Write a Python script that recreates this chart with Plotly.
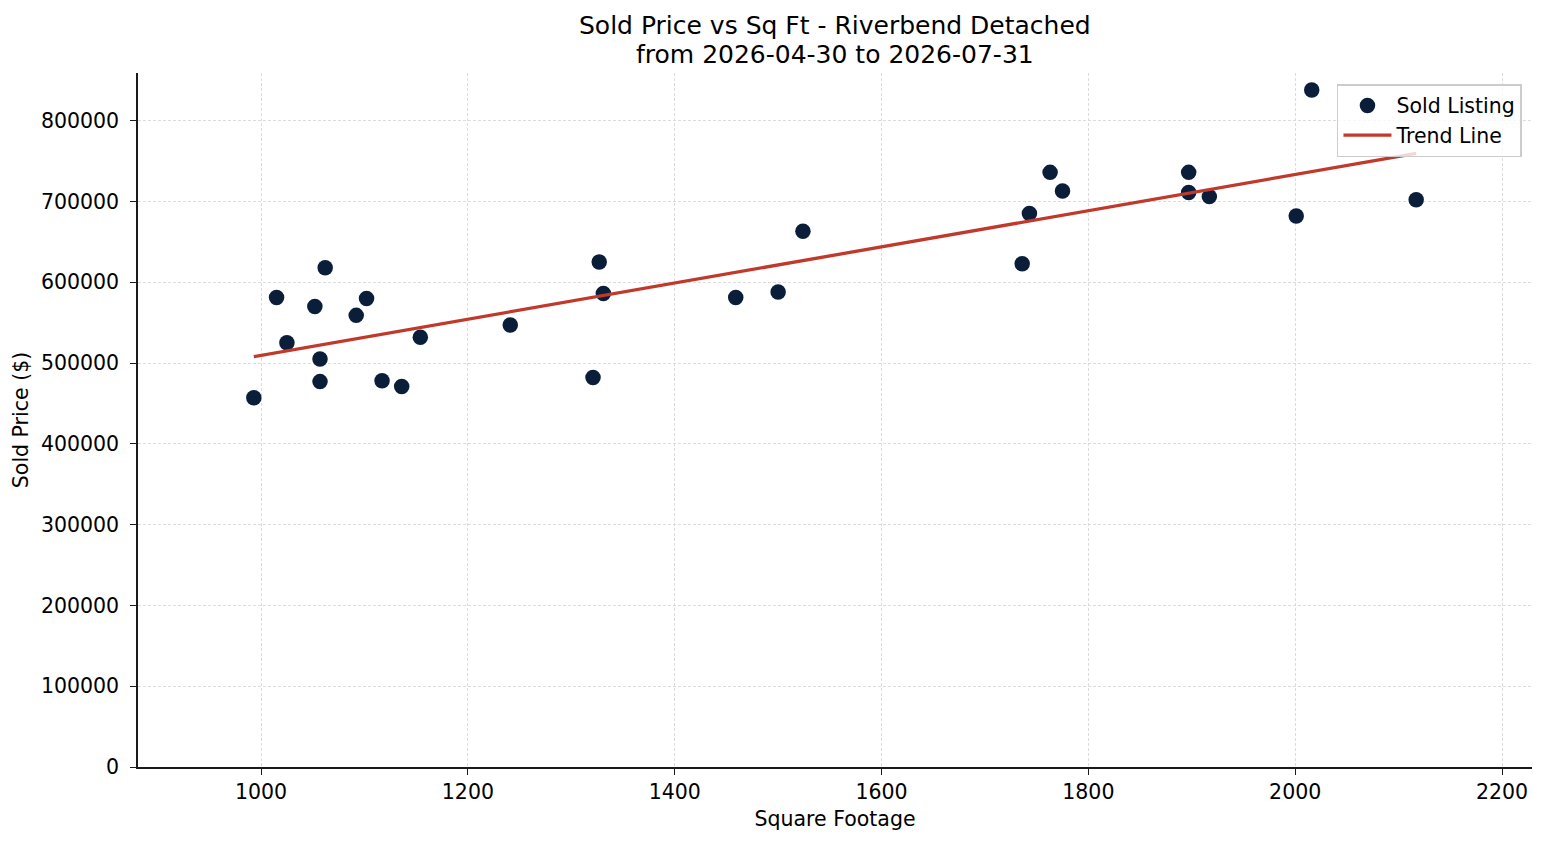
import numpy as np
import plotly.graph_objects as go

# Sold listings
sqft = [993, 1015, 1025, 1052, 1057, 1057, 1062, 1092, 1102, 1117, 1136, 1154,
        1241, 1321, 1327, 1331, 1459, 1500, 1524, 1736, 1743, 1763, 1775,
        1897, 1897, 1917, 2001, 2016, 2117]
price = [457000, 581000, 525000, 570000, 505000, 477000, 618000, 559000, 580000,
         478000, 471000, 532000, 547000, 482000, 625000, 586000, 581000, 588000,
         663000, 623000, 685000, 736000, 713000, 736000, 711000, 706000, 682000,
         838000, 702000]

x_ticks = [1000, 1200, 1400, 1600, 1800, 2000, 2200]
y_ticks = [0, 100000, 200000, 300000, 400000, 500000, 600000, 700000, 800000]

title_lines = ['Sold Price vs Sq Ft - Riverbend Detached', 'from 2026-04-30 to 2026-07-31']

# least squares trend line
slope, intercept = np.polyfit(sqft, price, 1)
trend_x = [min(sqft), max(sqft)]
trend_y = [slope * v + intercept for v in trend_x]

fig = go.Figure()

fig.add_trace(go.Scatter(
    x=sqft, y=price, mode='markers', name='Sold Listing',
    marker=dict(color='#0a1e3a', size=15.5, line=dict(width=0))
))
fig.add_trace(go.Scatter(
    x=trend_x, y=trend_y, mode='lines', name='Trend Line',
    line=dict(color='#c0392b', width=3.3)
))

axis_style = dict(
    showline=True, linecolor='#1a1a1a', linewidth=1.5,
    ticks='outside', ticklen=6, tickwidth=1.3, tickcolor='#1a1a1a',
    showgrid=True, gridcolor='#dcdcdc', griddash='3px,2px', gridwidth=0.8,
    zeroline=False, mirror=False,
    tickfont=dict(size=20.5, color='black'),
)

# the page has an 8px body margin, so margins are shifted to match the reference
fig.update_layout(
    width=1547, height=845,
    paper_bgcolor='white', plot_bgcolor='white',
    font=dict(family='DejaVu Sans', color='black'),
    margin=dict(l=130, r=23, t=65, b=86),
    xaxis=dict(axis_style, range=[881, 2229], tickvals=x_ticks, ticklabelstandoff=0,
               title=dict(text='Square Footage', font=dict(size=20.5), standoff=8)),
    yaxis=dict(axis_style, range=[0, 859000], tickvals=y_ticks, tickformat='d',
               ticklabelstandoff=7,
               title=dict(text='Sold Price ($)', font=dict(size=20.5), standoff=7)),
    legend=dict(
        x=0.9928, xanchor='right', y=0.984, yanchor='top',
        bgcolor='rgba(255,255,255,0.8)', bordercolor='#cccccc', borderwidth=1.5,
        font=dict(size=20.5), itemwidth=48, tracegroupgap=0
    ),
    showlegend=True,
)

fig.add_annotation(text=title_lines[0], xref='paper', yref='paper', x=0.5, y=1,
                   yanchor='middle', yshift=47.5, showarrow=False,
                   font=dict(size=25, color='black'))
fig.add_annotation(text=title_lines[1], xref='paper', yref='paper', x=0.5, y=1,
                   yanchor='middle', yshift=19, showarrow=False,
                   font=dict(size=25, color='black'))

fig.write_html("out.html")
